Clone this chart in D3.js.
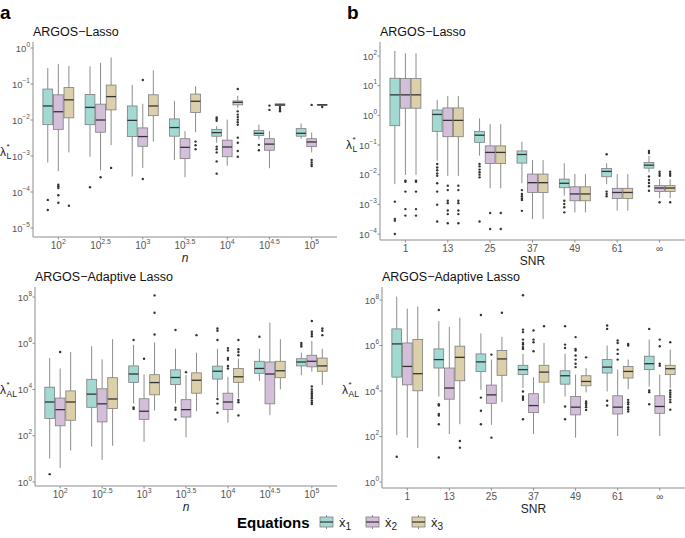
<!DOCTYPE html>
<html>
<head>
<meta charset="utf-8">
<script src="https://cdn.jsdelivr.net/npm/d3@7"></script>
<style>
  body { margin: 0; background: #fff; }
  svg { font-family: "Liberation Sans", Arial, sans-serif; }
</style>
</head>
<body>
<svg id="chart" width="685" height="538"></svg>
<script>
// categories (x axes)
const nCats = ["2", "2.5", "3", "3.5", "4", "4.5", "5"]; // exponents of n = 10^k
const snrCats = ["1", "13", "25", "37", "49", "61", "∞"];
const seriesNames = ["1", "2", "3"];
const fills = ["#a3d9d3", "#d4bfdb", "#dbd0aa"];

// all values are log10(lambda). box = [lower whisker, q1, median, q3, upper whisker]
const lassoN_x1 = [[-3.18,-2.13,-1.61,-1.14,-0.56],[-3.02,-2.13,-1.65,-1.29,-0.51],[-3.57,-2.46,-2.01,-1.61,-1.03],[-3.11,-2.45,-2.21,-1.97,-1.47],[-2.63,-2.45,-2.35,-2.26,-2.17],[-2.54,-2.43,-2.37,-2.29,-2.13],[-2.52,-2.45,-2.37,-2.24,-2.10]];
const lassoN_x2 = [[-3.42,-2.26,-1.77,-1.30,-0.44],[-3.40,-2.34,-2.00,-1.56,-0.41],[-3.33,-2.73,-2.46,-2.22,-1.55],[-3.59,-3.07,-2.76,-2.52,-2.31],[-3.27,-3.02,-2.75,-2.56,-1.99],[-3.34,-2.84,-2.67,-2.52,-2.31],[-2.90,-2.74,-2.61,-2.52,-2.35]];
const lassoN_x3 = [[-2.90,-1.94,-1.44,-1.10,-0.50],[-2.70,-1.72,-1.35,-1.03,-0.26],[-2.60,-1.88,-1.61,-1.30,-0.62],[-2.34,-1.79,-1.48,-1.28,-1.06],[-1.67,-1.58,-1.51,-1.47,-1.33],[-1.62,-1.60,-1.58,-1.55,-1.53],[-1.62,-1.59,-1.58,-1.57,-1.56]];
const lassoN_out1 = [[-4.22,-4.5],[-3.87],[],[],[-1.93,-1.97,-2.02,-2.74,-2.81,-2.90,-3.15,-3.49],[-2.69,-2.84],[]];
const lassoN_out2 = [[-3.80,-3.84,-3.89,-4.09,-4.30],[-3.59],[-0.89,-3.64],[],[],[-1.60,-1.72],[-1.58,-3.11,-3.18,-3.24,-3.28]];
const lassoN_out3 = [[-4.38],[-3.33],[],[-2.60,-2.70,-2.81],[-1.14,-1.76,-1.85,-1.92,-1.99,-2.06,-2.13,-2.49,-2.63,-2.86,-3.02],[-1.64,-1.68,-1.72,-1.76],[-1.64]];

const lassoS_x1 = [[-2.32,-0.35,0.69,1.25,2.17],[-1.53,-0.54,0.03,0.18,0.52],[-1.36,-0.91,-0.67,-0.54,-0.10],[-2.29,-1.61,-1.32,-1.20,-0.89],[-2.71,-2.44,-2.29,-2.15,-1.62],[-2.32,-2.07,-1.89,-1.79,-1.61],[-1.92,-1.78,-1.68,-1.59,-1.36]];
const lassoS_x2 = [[-2.01,0.24,0.69,1.24,2.09],[-2.04,-0.72,-0.17,0.25,0.65],[-2.46,-1.62,-1.25,-1.03,-0.30],[-3.49,-2.60,-2.27,-1.98,-1.51],[-3.27,-2.88,-2.65,-2.41,-1.98],[-3.21,-2.80,-2.60,-2.46,-1.98],[-2.79,-2.57,-2.45,-2.37,-2.15]];
const lassoS_x3 = [[-2.01,0.24,0.69,1.24,2.09],[-2.04,-0.72,-0.17,0.25,0.65],[-2.46,-1.62,-1.25,-1.03,-0.30],[-3.49,-2.60,-2.27,-1.98,-1.51],[-3.27,-2.88,-2.65,-2.41,-1.98],[-3.21,-2.80,-2.60,-2.46,-1.98],[-2.79,-2.57,-2.45,-2.37,-2.15]];
const lassoS_out1 = [[-2.91,-3.49,-3.55,-4.0],[-1.64,-1.76,-1.85,-1.96,-2.04,-2.29,-2.57,-3.01,-3.58],[-1.64,-1.72,-1.83,-1.92,-2.0,-2.09,-3.58],[-2.52,-2.65,-2.73,-2.80,-2.85,-3.22],[-2.88,-2.99,-3.10,-3.27],[-1.31,-2.57,-2.65,-2.73],[-1.20,-1.27,-2.06,-2.18,-2.28,-2.39,-2.54]];
const lassoS_out2 = [[-2.2,-2.24,-2.57,-3.16,-3.38],[-2.37,-2.52,-2.88,-2.96,-3.21,-3.33,-3.64],[-3.29,-3.83],[],[],[],[-1.90,-1.98,-2.04,-2.93]];
const lassoS_out3 = [[-2.2,-2.24,-2.57,-3.16,-3.38],[-2.37,-2.52,-2.88,-2.96,-3.21,-3.33,-3.64],[-3.29,-3.83],[],[],[],[-1.90,-1.98,-2.04,-2.93]];

const adaN_x1 = [[1.01,2.75,3.46,4.10,5.36],[1.53,3.23,3.80,4.44,5.87],[3.40,4.30,4.67,5.02,5.93],[3.40,4.21,4.52,4.85,5.76],[3.67,4.45,4.79,5.01,5.76],[4.37,4.70,4.91,5.22,5.76],[4.62,5.02,5.19,5.33,5.59]];
const adaN_x2 = [[0.61,2.43,3.13,3.63,4.91],[0.96,2.60,3.38,4.03,5.30],[1.74,2.71,3.06,3.60,4.65],[1.93,2.81,3.13,3.56,4.62],[2.57,3.13,3.46,3.84,4.55],[2.89,3.38,4.67,5.19,6.89],[4.77,4.98,5.22,5.48,6.10]];
const adaN_x3 = [[1.36,2.67,3.46,3.94,5.62],[1.57,3.18,3.59,4.51,6.18],[3.09,3.77,4.30,4.64,6.04],[3.06,3.84,4.40,4.72,5.59],[3.63,4.31,4.55,4.91,5.33],[4.01,4.51,4.81,5.22,6.18],[4.20,4.79,5.02,5.36,5.76]];
const adaN_out1 = [[0.34],[],[6.14,3.22,3.16],[6.57,3.21,3.12,2.70],[6.64,6.54,6.14,3.59,3.39,3.0],[6.28],[6.01,5.93,5.86]];
const adaN_out2 = [[5.62],[],[5.33],[4.75],[5.79,5.69,5.36,5.29,5.02,4.91],[],[6.96,6.50,6.40,6.30,4.13,4.0,3.9,3.83,3.76,3.69,3.62,3.52,3.44,3.37]];
const adaN_out3 = [[],[],[8.07,7.32,6.38],[6.35],[6.14,5.74,5.62,5.48,3.55,3.45,2.88],[],[6.64,6.54,6.35]];

const adaS_x1 = [[2.06,4.61,6.07,6.73,8.15],[3.76,5.01,5.38,5.85,7.07],[4.05,4.86,5.28,5.63,6.53],[4.13,4.72,4.94,5.13,5.63],[3.76,4.30,4.67,4.89,5.64],[3.98,4.79,5.05,5.38,6.00],[4.20,4.94,5.20,5.53,6.26]];
const adaS_x2 = [[1.95,4.27,5.08,6.11,7.62],[2.11,3.64,4.13,5.01,6.82],[2.51,3.46,3.83,4.26,5.38],[2.11,3.05,3.36,3.88,4.60],[1.95,2.95,3.29,3.76,4.72],[2.02,2.99,3.29,3.79,4.94],[2.02,3.02,3.32,3.79,4.72]];
const adaS_x3 = [[1.50,4.01,4.76,6.26,7.71],[2.54,4.45,5.48,5.97,7.22],[3.51,4.69,5.41,5.78,6.38],[3.46,4.39,4.83,5.13,6.11],[3.94,4.23,4.42,4.67,5.01],[4.08,4.57,4.86,5.08,5.38],[4.13,4.72,4.98,5.13,5.82]];
const adaS_out1 = [[1.11],[7.56,3.42,3.36,2.99,2.92,2.54,1.08],[7.34,3.71,3.13,2.54],[8.21,6.70,6.59,6.26,6.11,6.04,5.93,5.85,3.98,3.76,3.69,3.61,2.76],[6.85,6.04,5.89,3.32,2.76],[6.88,6.73,3.57,3.36],[6.73,4.02,3.95,3.42]];
const adaS_out2 = [[],[],[5.60,1.95],[6.66,6.26,6.14,5.75],[6.37,5.85,5.78,5.56,5.38,5.20,5.05],[6.22,6.11,5.82,5.63,5.38],[6.26,5.97,5.20,5.11]];
const adaS_out3 = [[],[1.80,1.51],[7.44],[6.85],[5.48,3.54,3.46,3.38,3.29,3.17],[6.07,6.00,3.61,3.51,3.42,3.29,3.20,3.10],[6.14,4.02,3.92,3.84,3.74,3.62,3.51,3.18]];

// y tick exponents
const ticksLassoN = [0, -1, -2, -3, -4, -5];
const ticksLassoS = [2, 1, 0, -1, -2, -3, -4];
const ticksAda = [8, 6, 4, 2, 0];

const svg = d3.select("#chart");
const axisCol = "#8c8c8c";
const tickTextCol = "#555";

function drawPanel(p) {
  const g = svg.append("g");
  const x = d3.scalePoint().domain(p.cats).range([p.left, p.right]).padding(0.6);
  const y = d3.scaleLinear().domain(p.yDom).range(p.yRng);
  const step = x.step();
  const bw = step * 0.25;

  // boxes
  p.boxes.forEach((ser, si) => {
    const off = (si - 1) * bw;
    ser.forEach((b, ci) => {
      const cx = x(p.cats[ci]) + off;
      // whiskers
      g.append("line").attr("x1", cx).attr("x2", cx)
        .attr("y1", y(b[0])).attr("y2", y(b[1]))
        .attr("stroke", "#6f6f6f").attr("stroke-width", 0.8);
      g.append("line").attr("x1", cx).attr("x2", cx)
        .attr("y1", y(b[3])).attr("y2", y(b[4]))
        .attr("stroke", "#6f6f6f").attr("stroke-width", 0.8);
      g.append("rect")
        .attr("x", cx - bw / 2 + 0.4).attr("width", bw - 0.8)
        .attr("y", y(b[3])).attr("height", Math.max(0.5, y(b[1]) - y(b[3])))
        .attr("fill", fills[si]).attr("stroke", "#7d7d7d").attr("stroke-width", 0.8);
      g.append("line").attr("x1", cx - bw / 2 + 0.4).attr("x2", cx + bw / 2 - 0.4)
        .attr("y1", y(b[2])).attr("y2", y(b[2]))
        .attr("stroke", "#333").attr("stroke-width", 1.3);
      // outliers
      p.outs[si][ci].forEach(v => {
        g.append("circle").attr("cx", cx).attr("cy", y(v)).attr("r", 1.2).attr("fill", "#333");
      });
    });
  });

  // axes lines
  g.append("line").attr("x1", p.left).attr("x2", p.left).attr("y1", p.top).attr("y2", p.bottom)
    .attr("stroke", axisCol).attr("stroke-width", 1);
  g.append("line").attr("x1", p.left).attr("x2", p.right).attr("y1", p.bottom).attr("y2", p.bottom)
    .attr("stroke", axisCol).attr("stroke-width", 1);

  // y ticks
  p.yTicks.forEach(t => {
    const ty = y(t);
    g.append("line").attr("x1", p.left - 2.5).attr("x2", p.left).attr("y1", ty).attr("y2", ty)
      .attr("stroke", axisCol);
    const tx = g.append("text").attr("x", p.left - 3).attr("y", ty + 3.5)
      .attr("text-anchor", "end").attr("fill", tickTextCol).attr("font-size", 9.5);
    tx.append("tspan").text("10");
    tx.append("tspan").attr("dy", -5).attr("font-size", 6.5).text(String(t).replace("-", "−"));
  });

  // x ticks
  p.cats.forEach((c, i) => {
    const cx = x(c);
    g.append("line").attr("x1", cx).attr("x2", cx).attr("y1", p.bottom).attr("y2", p.bottom + 2.5)
      .attr("stroke", axisCol);
    const tx = g.append("text").attr("x", cx).attr("y", p.bottom + 12)
      .attr("text-anchor", "middle").attr("fill", tickTextCol).attr("font-size", 10);
    if (p.powerX) {
      tx.append("tspan").text("10");
      tx.append("tspan").attr("dy", -5).attr("font-size", 7).text(c);
    } else {
      tx.text(c);
    }
  });

  // x axis title
  g.append("text").attr("x", (p.left + p.right) / 2).attr("y", p.bottom + 25)
    .attr("text-anchor", "middle").attr("font-size", 12).attr("fill", "#222")
    .attr("font-style", p.powerX ? "italic" : "normal").text(p.xTitle);

  // panel title
  g.append("text").attr("x", p.left).attr("y", p.top - 6)
    .attr("font-size", 12.5).attr("fill", "#111").text(p.title);

  // y axis title: lambda with star above the subscript
  g.append("text").attr("x", p.ylabX).attr("y", p.ylabY)
    .attr("font-size", 12).attr("fill", "#222").text("λ");
  g.append("text").attr("x", p.ylabX + 6.5).attr("y", p.ylabY - 7)
    .attr("font-size", 8).attr("fill", "#222").text("*");
  g.append("text").attr("x", p.ylabX + 6.5).attr("y", p.ylabY + 3)
    .attr("font-size", 8.5).attr("fill", "#222").text(p.sub);
}

drawPanel({
  cats: nCats, powerX: true, left: 33, right: 337, top: 42, bottom: 237,
  yDom: [-5, 0], yRng: [228, 48], yTicks: ticksLassoN,
  boxes: [lassoN_x1, lassoN_x2, lassoN_x3], outs: [lassoN_out1, lassoN_out2, lassoN_out3],
  title: "ARGOS−Lasso", xTitle: "n", sub: "L", ylabX: 0, ylabY: 156
});
drawPanel({
  cats: snrCats, powerX: false, left: 380, right: 685, top: 42, bottom: 240,
  yDom: [-4, 2], yRng: [234, 56], yTicks: ticksLassoS,
  boxes: [lassoS_x1, lassoS_x2, lassoS_x3], outs: [lassoS_out1, lassoS_out2, lassoS_out3],
  title: "ARGOS−Lasso", xTitle: "SNR", sub: "L", ylabX: 346, ylabY: 149
});
drawPanel({
  cats: nCats, powerX: true, left: 35, right: 337, top: 287, bottom: 486,
  yDom: [0, 8], yRng: [482, 297], yTicks: ticksAda,
  boxes: [adaN_x1, adaN_x2, adaN_x3], outs: [adaN_out1, adaN_out2, adaN_out3],
  title: "ARGOS−Adaptive Lasso", xTitle: "n", sub: "AL", ylabX: 0, ylabY: 394
});
drawPanel({
  cats: snrCats, powerX: false, left: 382, right: 685, top: 287, bottom: 488,
  yDom: [0, 8], yRng: [482, 300], yTicks: ticksAda,
  boxes: [adaS_x1, adaS_x2, adaS_x3], outs: [adaS_out1, adaS_out2, adaS_out3],
  title: "ARGOS−Adaptive Lasso", xTitle: "SNR", sub: "AL", ylabX: 342, ylabY: 394
});

// panel letters
svg.append("text").attr("x", 0).attr("y", 19).attr("font-size", 19).attr("font-weight", "bold").text("a");
svg.append("text").attr("x", 347).attr("y", 19).attr("font-size", 19).attr("font-weight", "bold").text("b");

// legend
const leg = svg.append("g");
leg.append("text").attr("x", 237).attr("y", 528).attr("font-size", 15).attr("font-weight", "bold").text("Equations");
const keyX = [320, 366, 412];
seriesNames.forEach((s, i) => {
  const kx = keyX[i];
  leg.append("line").attr("x1", kx + 6.5).attr("x2", kx + 6.5).attr("y1", 515).attr("y2", 529)
    .attr("stroke", "#6f6f6f").attr("stroke-width", 0.8);
  leg.append("rect").attr("x", kx).attr("y", 517).attr("width", 13).attr("height", 10)
    .attr("fill", fills[i]).attr("stroke", "#7d7d7d").attr("stroke-width", 0.8);
  leg.append("line").attr("x1", kx).attr("x2", kx + 13).attr("y1", 522).attr("y2", 522)
    .attr("stroke", "#333").attr("stroke-width", 1.2);
  const t = leg.append("text").attr("x", kx + 19).attr("y", 527).attr("font-size", 13).attr("fill", "#222");
  t.append("tspan").text("ẋ");
  t.append("tspan").attr("dy", 3).attr("font-size", 10).text(s);
});
</script>
</body>
</html>
